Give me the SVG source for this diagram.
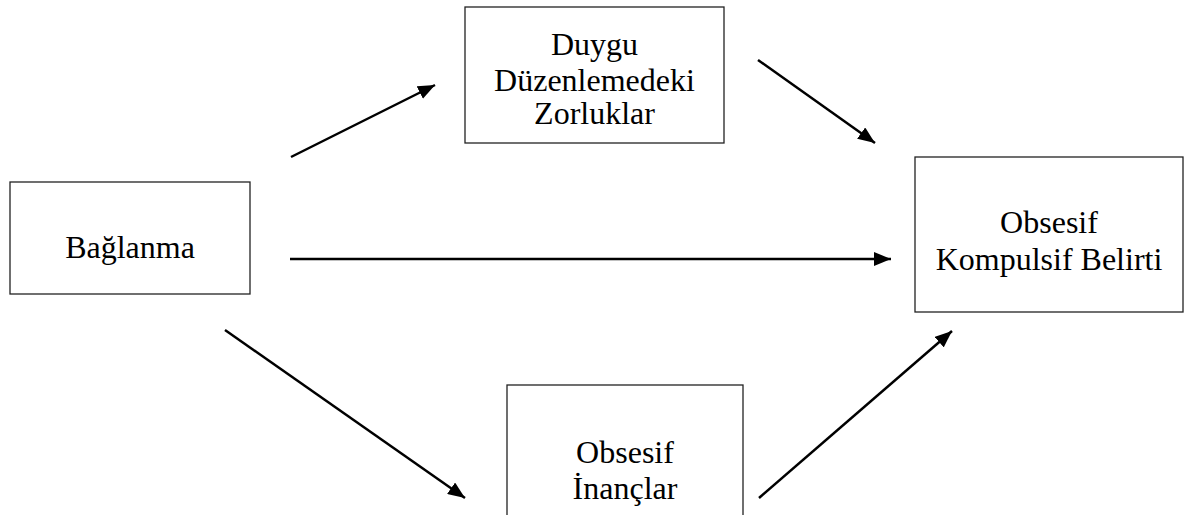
<svg xmlns="http://www.w3.org/2000/svg" width="1189" height="515" viewBox="0 0 1189 515">
  <style>
    .box { fill: #ffffff; stroke: #222222; stroke-width: 1.3; }
    .label { font-family: "Liberation Serif", "Times New Roman", serif; font-size: 32px; fill: #000000; text-anchor: middle; }
    .edge { stroke: #000000; stroke-width: 2.5; fill: none; marker-end: url(#arrow); }
  </style>
  <defs>
    <marker id="arrow" markerUnits="userSpaceOnUse" markerWidth="18" markerHeight="14" refX="17" refY="7" orient="auto">
      <path d="M0,0 L17,7 L0,14 z" fill="#000000"/>
    </marker>
  </defs>
  <rect width="1189" height="515" fill="#ffffff"/>

  <g id="node-baglanma">
    <rect class="box" x="10" y="182" width="240" height="112"/>
    <text class="label" x="130" y="258">Bağlanma</text>
  </g>

  <g id="node-duygu">
    <rect class="box" x="465" y="7" width="259" height="136"/>
    <text class="label" x="594.5" y="55">Duygu</text>
    <text class="label" x="594.5" y="91">Düzenlemedeki</text>
    <text class="label" x="594.5" y="124">Zorluklar</text>
  </g>

  <g id="node-okb">
    <rect class="box" x="915" y="157" width="268" height="155"/>
    <text class="label" x="1049" y="233">Obsesif</text>
    <text class="label" x="1049" y="270">Kompulsif Belirti</text>
  </g>

  <g id="node-inanclar">
    <rect class="box" x="507" y="385" width="236" height="140"/>
    <text class="label" x="625" y="463">Obsesif</text>
    <text class="label" x="625" y="499">İnançlar</text>
  </g>

  <g id="connectors">
    <line class="edge" x1="291" y1="157" x2="435" y2="85"/>
    <line class="edge" x1="758" y1="60" x2="875" y2="143"/>
    <line class="edge" x1="290" y1="259" x2="891" y2="259"/>
    <line class="edge" x1="225" y1="330" x2="465" y2="498"/>
    <line class="edge" x1="759" y1="498" x2="952" y2="331"/>
  </g>
</svg>
